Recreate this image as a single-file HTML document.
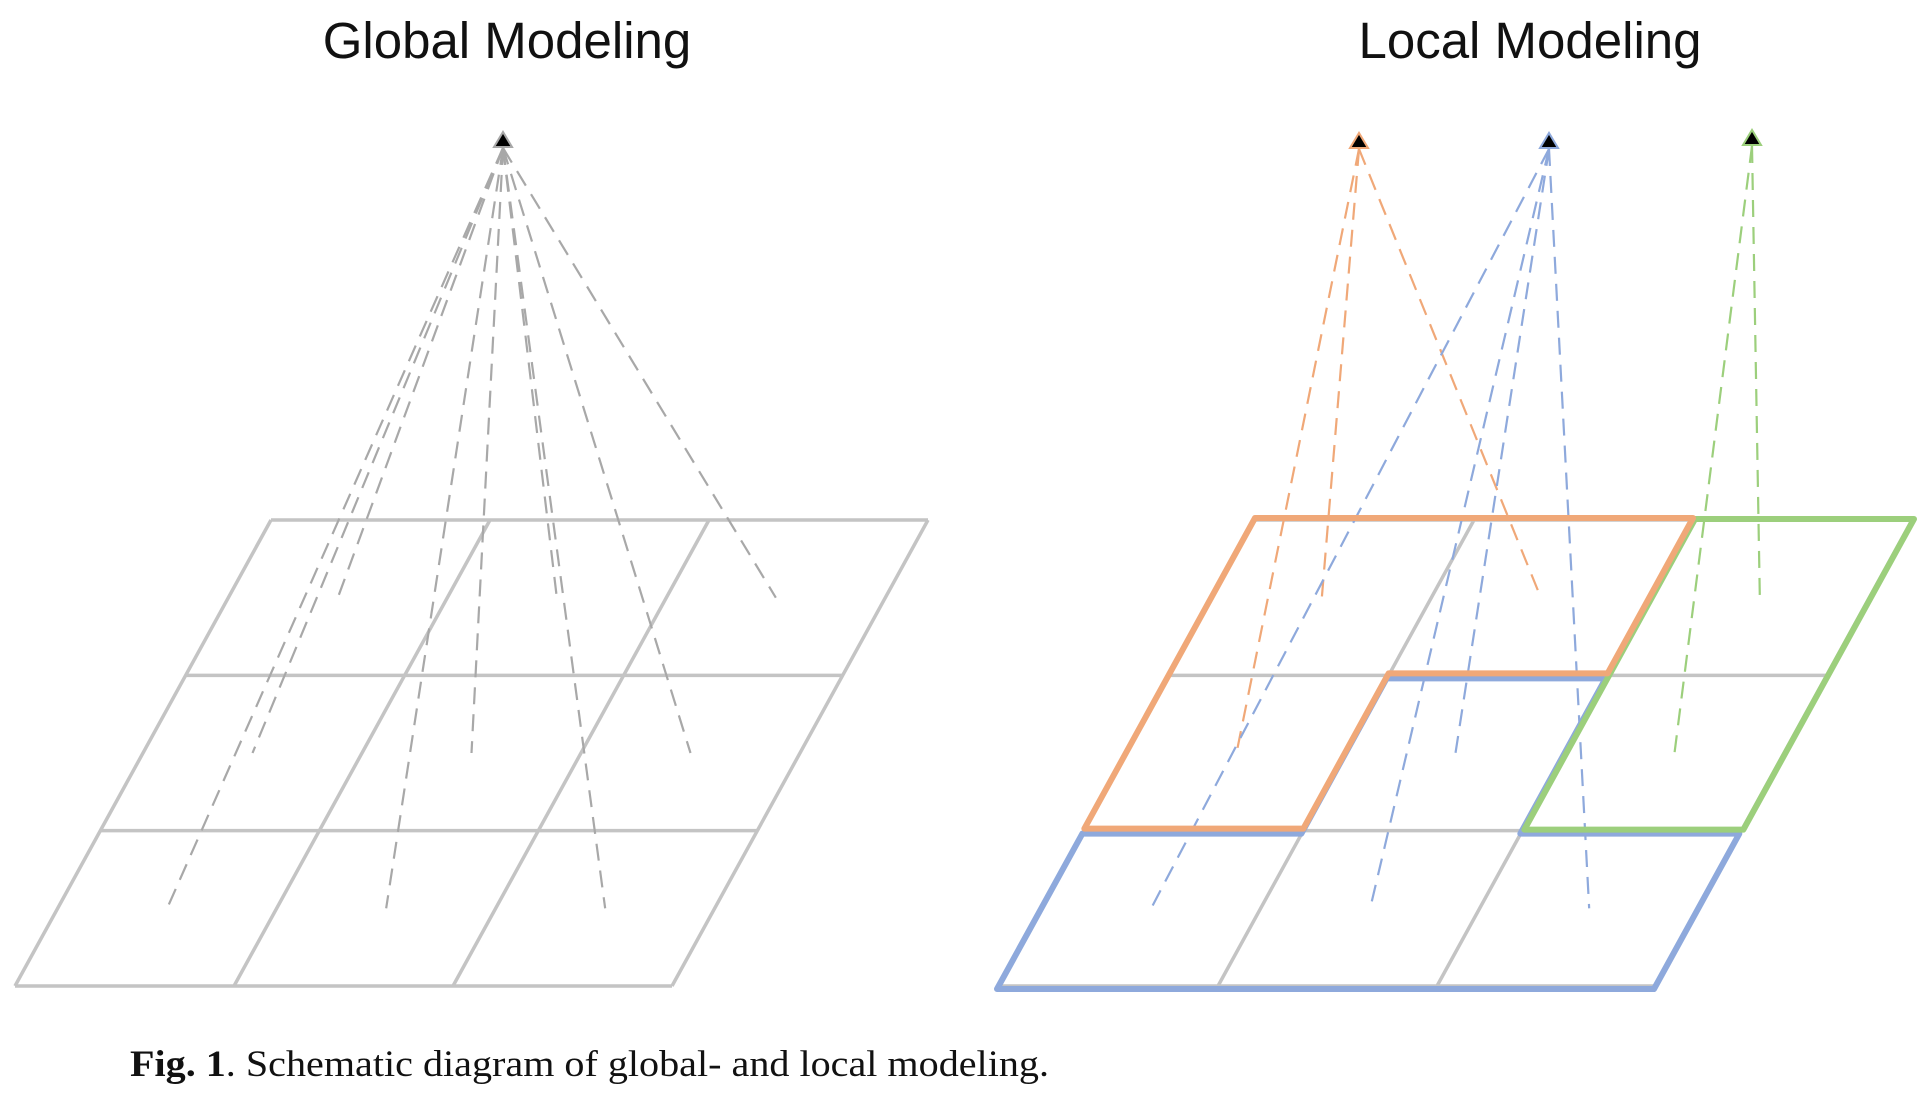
<!DOCTYPE html>
<html><head><meta charset="utf-8"><style>
html,body{margin:0;padding:0;background:#fff;}
svg{display:block;}
</style></head><body>
<svg id="fig" width="1918" height="1114" viewBox="0 0 1918 1114" xmlns="http://www.w3.org/2000/svg">
<text x="507" y="58" text-anchor="middle" font-family="Liberation Sans, sans-serif" font-size="51" fill="#111">Global Modeling</text>
<text x="1530" y="58" text-anchor="middle" font-family="Liberation Sans, sans-serif" font-size="51" fill="#111">Local Modeling</text>
<text x="130" y="1076" font-family="Liberation Serif, serif" font-size="37" fill="#111" textLength="919" lengthAdjust="spacingAndGlyphs"><tspan font-weight="bold">Fig. 1</tspan>.  Schematic diagram of global- and local modeling.</text>
</svg>
<script>
// grid geometry data
const rows = [0, 1, 2];
const cols = [0, 1, 2];
// global: target cells [row, col]
const globalTargets = [[0,0],[0,1],[0,2],[1,0],[1,1],[1,2],[2,0],[2,1],[2,2]];
// local: target cells per region
const orangeTargets = [[0,0],[0,1],[1,0]];
const blueTargets = [[1,1],[2,0],[2,1],[2,2]];
const greenTargets = [[0,2],[1,2]];

const NS = 'http://www.w3.org/2000/svg';
const svg = document.getElementById('fig');
const TOP = 520, BOT = 986, CW = 219, SHIFT = 256;
const ROWH = (BOT - TOP) / 3;
function gy(r){ return TOP + r * ROWH; }
function gx(x0, c, y){ return x0 + c * CW - SHIFT * (y - TOP) / (BOT - TOP); }
function center(x0, rc){ const y = gy(rc[0] + 0.5); return [gx(x0, rc[1] + 0.5, y), y]; }

function line(x1,y1,x2,y2,stroke,w,dash,name){
  const l = document.createElementNS(NS,'line');
  l.setAttribute('x1',x1);l.setAttribute('y1',y1);l.setAttribute('x2',x2);l.setAttribute('y2',y2);
  l.setAttribute('stroke',stroke);l.setAttribute('stroke-width',w);
  if(dash) l.setAttribute('stroke-dasharray',dash);
  
  
  svg.appendChild(l);
}
function grid(x0, prefix){
  for(let r=0;r<=3;r++){
    const y=gy(r);
    line(gx(x0,0,y),y,gx(x0,3,y),y,'#c4c4c4',3.5,null,prefix+'-grid-row');
  }
  for(let c=0;c<=3;c++){
    line(gx(x0,c,TOP),TOP,gx(x0,c,BOT),BOT,'#c4c4c4',3.5,null,prefix+'-grid-col');
  }
}
function poly(x0, pts, color, name, dx, dy){
  const p = document.createElementNS(NS,'polygon');
  p.setAttribute('points', pts.map(([c,r])=>{const y=gy(r);return (gx(x0,c,y)+dx)+','+(y+dy);}).join(' '));
  p.setAttribute('fill','none');p.setAttribute('stroke',color);p.setAttribute('stroke-width',6);
  p.setAttribute('stroke-linejoin','round');
  
  
  svg.appendChild(p);
}
function rays(x0, apex, targets, color, name){
  targets.forEach(t=>{ const [cx,cy]=center(x0,t); line(apex[0],apex[1]+8,cx,cy,color,2.2,'17,10',name); });
  const tri = document.createElementNS(NS,'polygon');
  tri.setAttribute('points', `${apex[0]-9},${apex[1]+7} ${apex[0]+9},${apex[1]+7} ${apex[0]},${apex[1]-8}`);
  tri.setAttribute('fill','#000');tri.setAttribute('stroke',color);tri.setAttribute('stroke-width',2);
  
  
  svg.appendChild(tri);
}
// Global
grid(271,'global');
rays(271,[503,140],globalTargets,'#a8a8a8','global-ray');
// Local
const LX = 1255;
grid(LX,'local');
rays(LX,[1359,141],orangeTargets,'#f0a878','orange-ray');
rays(LX,[1549,141],blueTargets,'#8ea9dc','blue-ray');
rays(LX,[1752,138],greenTargets,'#9ccf7c','green-ray');
poly(LX,[[1,1],[2,1],[2,2],[3,2],[3,3],[0,3],[0,2],[1,2]],'#8ea9dc','blue-region',-2,3);
poly(LX,[[2,0],[3,0],[3,2],[2,2]],'#9ccf7c','green-region',2,-1);
poly(LX,[[0,0],[2,0],[2,1],[1,1],[1,2],[0,2]],'#f0a878','orange-region',0,-2);
</script>
</body></html>
